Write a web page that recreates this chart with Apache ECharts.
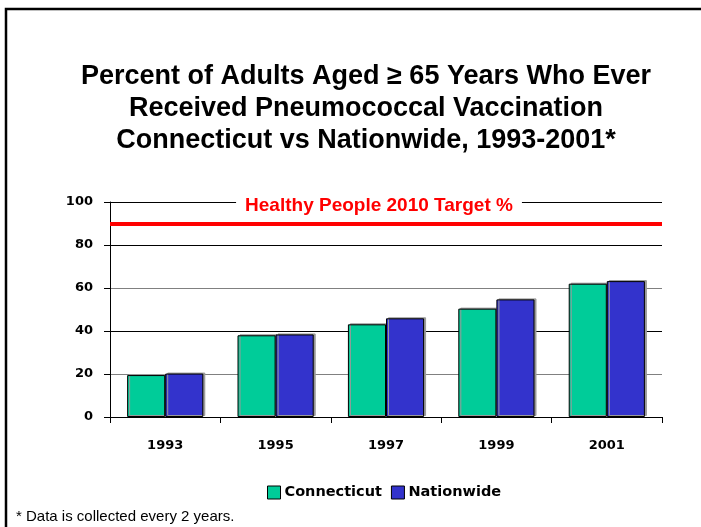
<!DOCTYPE html>
<html>
<head>
<meta charset="utf-8">
<script src="https://cdn.jsdelivr.net/npm/echarts@6/dist/echarts.min.js"></script>
<style>
  html, body { margin: 0; padding: 0; background: #fff; }
  #container { width: 701px; height: 527px; }
</style>
</head>
<body>
<div id="container"></div>
<script>
var years = ['1993', '1995', '1997', '1999', '2001'];
var connecticut = [19.5, 38.0, 43.1, 50.4, 62.0];
var nationwide = [20.2, 38.4, 45.9, 54.7, 63.2];
var targetValue = 90;
var targetLabel = 'Healthy People 2010 Target %';

var dom = document.getElementById('container');
var myChart = echarts.init(dom);
var font = '"Liberation Sans", Arial, sans-serif';
var wideFont = '"DejaVu Sans", sans-serif';

var option = {
    animation: false,
    backgroundColor: '#fff',
    title: {
        text: 'Percent of Adults Aged \u2265 65 Years Who Ever\nReceived Pneumococcal Vaccination\nConnecticut vs Nationwide, 1993-2001*',
        left: 361,
        textAlign: 'center',
        top: 56,
        textStyle: {
            fontFamily: font,
            fontSize: 27,
            fontWeight: 'bold',
            color: '#000',
            lineHeight: 32
        }
    },
    grid: { left: 110, right: 39, top: 202, bottom: 110 },
    legend: {
        data: ['Connecticut', 'Nationwide'],
        left: 262,
        top: 480,
        itemWidth: 13,
        itemHeight: 13,
        itemGap: 9,
        icon: 'rect',
        textStyle: { fontFamily: wideFont, fontSize: 14.5, fontWeight: 'bold', color: '#000', padding: [0, 0, 0, -1] },
        itemStyle: { borderColor: '#000', borderWidth: 1 }
    },
    xAxis: {
        type: 'category',
        data: years,
        axisLine: { lineStyle: { color: '#000', width: 1 } },
        axisTick: { show: true, length: 6, lineStyle: { color: '#000' } },
        axisLabel: { fontFamily: wideFont, fontSize: 13, fontWeight: 'bold', color: '#000', margin: 22 }
    },
    yAxis: {
        type: 'value',
        min: 0,
        max: 100,
        interval: 20,
        axisLine: { show: true, lineStyle: { color: '#000', width: 1 } },
        axisTick: { show: true, length: 6, lineStyle: { color: '#000' } },
        axisLabel: { fontFamily: wideFont, fontSize: 13, fontWeight: 'bold', color: '#000', margin: 17 },
        splitLine: { show: true, lineStyle: { color: ['#000', '#808080', '#000', '#808080', '#000', '#000'], width: 1 } }
    },
    series: [
        {
            name: 'Connecticut',
            type: 'bar',
            data: connecticut,
            barGap: '0%',
            barCategoryGap: '31%',
            itemStyle: {
                color: '#00CC99',
                borderColor: '#000',
                borderWidth: 1,
                shadowColor: '#999',
                shadowOffsetX: 2,
                shadowOffsetY: -1
            },
            markLine: {
                silent: true,
                symbol: 'none',
                label: { show: false },
                lineStyle: { color: '#ff0000', width: 4, type: 'solid' },
                data: [{ yAxis: targetValue }]
            }
        },
        {
            name: 'Nationwide',
            type: 'bar',
            data: nationwide,
            itemStyle: {
                color: '#3333CC',
                borderColor: '#000',
                borderWidth: 1,
                shadowColor: '#999',
                shadowOffsetX: 2,
                shadowOffsetY: -1
            }
        }
    ],
    graphic: [
        {
            type: 'rect',
            shape: { x: 6, y: 9, width: 760, height: 600 },
            style: { fill: 'none', stroke: '#000', lineWidth: 2.5 },
            z: 10
        },
        {
            type: 'text',
            x: 379,
            y: 206,
            z: 20,
            style: {
                text: targetLabel,
                fontFamily: font,
                fontSize: 19,
                fontWeight: 'bold',
                fill: '#ff0000',
                align: 'center',
                verticalAlign: 'middle',
                backgroundColor: '#fff',
                padding: [1, 9, 1, 9]
            }
        },
        {
            type: 'text',
            x: 16,
            y: 517,
            style: {
                text: '* Data is collected every 2 years.',
                fontFamily: font,
                fontSize: 15,
                fill: '#000',
                verticalAlign: 'middle'
            }
        }
    ]
};

myChart.setOption(option, true);
</script>
</body>
</html>
